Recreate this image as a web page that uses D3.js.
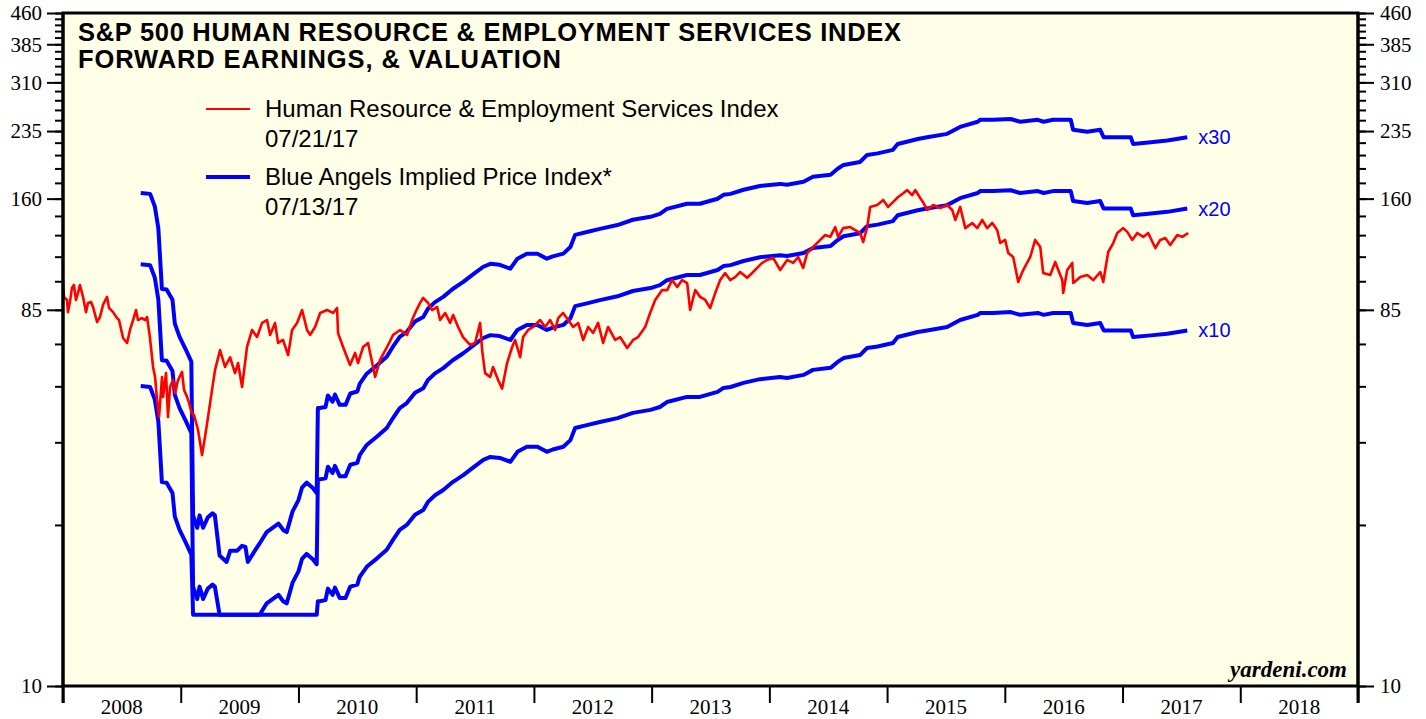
<!DOCTYPE html>
<html>
<head>
<meta charset="utf-8">
<title>S&amp;P 500 Human Resource &amp; Employment Services Index</title>
<style>
  body { margin: 0; background: #fff; }
  svg { display: block; }
</style>
</head>
<body>
<svg width="1426" height="719"></svg>
<script src="https://d3js.org/d3.v7.min.js"></script>
<script>

// year boundaries on the time axis, labels sit in the middle of each year
const years = d3.range(2008, 2020)
const yearLabels = d3.range(2008, 2019)
const yMajor = [10, 85, 160, 235, 310, 385, 460]
const yMinor = d3.range(10, 461, 15)

// valuation multiples applied to forward earnings (blue lines)
const multiples = [10, 20, 30]
const floorValue = 15   // blue lines never drawn below this

// forward earnings per share, [decimal year, value]
const fwdEarnings = [
  [2008.66,5.51],[2008.74,5.48],[2008.78,5.1],[2008.81,4.5],[2008.84,3.19],[2008.88,3.18],
  [2008.93,3.0],[2008.95,2.62],[2008.99,2.43],[2009.04,2.27],[2009.09,2.11],[2009.105,0.88],
  [2009.14,0.82],[2009.16,0.88],[2009.19,0.82],[2009.23,0.87],[2009.27,0.89],[2009.29,0.88],
  [2009.33,0.70],[2009.39,0.675],[2009.42,0.72],[2009.48,0.72],[2009.52,0.74],[2009.55,0.735],
  [2009.57,0.675],[2009.63,0.72],[2009.67,0.75],[2009.73,0.80],[2009.78,0.82],[2009.83,0.84],
  [2009.87,0.81],[2009.90,0.80],[2009.95,0.90],[2010.00,0.96],[2010.03,1.03],[2010.07,1.06],
  [2010.12,1.03],[2010.155,1.00],[2010.165,1.62],[2010.18,1.62],[2010.23,1.63],[2010.25,1.74],
  [2010.29,1.68],[2010.31,1.75],[2010.35,1.65],[2010.40,1.65],[2010.44,1.76],[2010.50,1.78],
  [2010.52,1.86],[2010.58,1.97],[2010.67,2.07],[2010.75,2.17],[2010.80,2.29],[2010.86,2.43],
  [2010.92,2.50],[2010.99,2.65],[2011.06,2.72],[2011.10,2.85],[2011.16,2.96],[2011.23,3.05],
  [2011.31,3.19],[2011.40,3.32],[2011.48,3.46],[2011.57,3.62],[2011.63,3.68],[2011.71,3.66],
  [2011.80,3.58],[2011.86,3.79],[2011.94,3.90],[2012.03,3.90],[2012.11,3.79],[2012.16,3.84],
  [2012.25,3.90],[2012.31,4.05],[2012.35,4.34],[2012.45,4.41],[2012.56,4.49],[2012.71,4.59],
  [2012.84,4.73],[2012.99,4.81],[2013.07,4.89],[2013.13,5.03],[2013.30,5.18],[2013.41,5.18],
  [2013.56,5.33],[2013.61,5.45],[2013.67,5.48],[2013.78,5.61],[2013.92,5.73],[2014.09,5.80],
  [2014.15,5.77],[2014.29,5.87],[2014.37,6.04],[2014.52,6.11],[2014.58,6.32],[2014.63,6.46],
  [2014.77,6.57],[2014.83,6.84],[2014.92,6.90],[2015.05,7.04],[2015.09,7.28],[2015.26,7.49],
  [2015.34,7.56],[2015.51,7.71],[2015.62,8.02],[2015.77,8.26],[2015.79,8.35],[2015.90,8.35],
  [2016.05,8.39],[2016.13,8.26],[2016.28,8.35],[2016.33,8.26],[2016.41,8.35],[2016.56,8.35],
  [2016.58,7.89],[2016.70,7.80],[2016.81,7.89],[2016.84,7.56],[2017.07,7.56],[2017.09,7.28],
  [2017.24,7.35],[2017.38,7.42],[2017.55,7.56]
]

// S&P 500 HR & employment services index, [decimal year, value]
const hrIndex = [
  [2008.000,100.7],[2008.008,91.5],[2008.034,89.9],[2008.042,83.9],[2008.059,88.9],[2008.076,96.2],
  [2008.093,97.9],[2008.110,89.9],[2008.127,93.5],[2008.144,97.9],[2008.170,91.5],[2008.195,83.9],
  [2008.212,88.4],[2008.238,88.9],[2008.255,86.4],[2008.289,79.3],[2008.314,81.6],[2008.340,87.4],
  [2008.374,91.5],[2008.391,85.9],[2008.425,83.9],[2008.459,81.1],[2008.476,80.2],[2008.510,72.4],
  [2008.544,70.4],[2008.569,75.8],[2008.595,80.2],[2008.620,84.9],[2008.637,80.2],[2008.671,81.1],
  [2008.697,80.2],[2008.714,81.6],[2008.739,72.4],[2008.765,61.4],[2008.782,58.0],[2008.799,50.9],
  [2008.816,46.2],[2008.841,58.0],[2008.850,51.8],[2008.875,59.3],[2008.892,46.2],[2008.909,54.8],
  [2008.935,57.0],[2008.952,53.0],[2008.977,57.0],[2009.011,59.7],[2009.028,53.9],[2009.054,51.8],
  [2009.071,50.0],[2009.096,47.0],[2009.113,46.7],[2009.147,42.9],[2009.181,37.2],[2009.206,41.2],
  [2009.232,46.2],[2009.266,53.9],[2009.291,60.3],[2009.334,67.6],[2009.376,61.4],[2009.419,64.9],
  [2009.461,59.3],[2009.487,62.8],[2009.521,54.8],[2009.563,68.8],[2009.606,75.8],[2009.648,72.8],
  [2009.691,78.9],[2009.733,80.2],[2009.759,73.7],[2009.801,78.9],[2009.827,70.4],[2009.869,71.6],
  [2009.912,65.7],[2009.946,75.8],[2009.988,78.9],[2010.031,84.9],[2010.073,75.8],[2010.099,73.7],
  [2010.141,77.1],[2010.184,83.5],[2010.243,84.9],[2010.294,83.5],[2010.328,85.9],[2010.336,74.5],
  [2010.379,68.8],[2010.438,62.1],[2010.481,66.5],[2010.506,62.8],[2010.549,68.8],[2010.591,70.4],
  [2010.625,63.2],[2010.651,58.0],[2010.693,63.9],[2010.753,68.8],[2010.804,73.7],[2010.863,75.8],
  [2010.923,73.7],[2010.965,80.2],[2010.991,83.5],[2011.033,88.4],[2011.059,91.0],[2011.101,88.4],
  [2011.135,84.9],[2011.178,86.4],[2011.203,80.2],[2011.246,83.5],[2011.288,78.9],[2011.314,82.5],
  [2011.356,77.1],[2011.398,72.8],[2011.458,69.6],[2011.500,70.4],[2011.543,78.9],[2011.560,67.6],
  [2011.585,59.3],[2011.628,58.0],[2011.653,61.4],[2011.696,57.0],[2011.730,54.3],[2011.772,62.8],
  [2011.815,68.8],[2011.840,71.6],[2011.883,64.9],[2011.908,72.8],[2011.951,75.8],[2011.993,77.1],
  [2012.053,80.2],[2012.095,77.1],[2012.138,80.2],[2012.180,75.8],[2012.206,81.1],[2012.248,83.5],
  [2012.291,80.2],[2012.333,77.1],[2012.376,78.9],[2012.418,71.6],[2012.461,77.1],[2012.503,74.5],
  [2012.545,78.9],[2012.588,70.4],[2012.630,77.1],[2012.690,71.6],[2012.732,72.8],[2012.792,68.4],
  [2012.843,71.6],[2012.885,72.8],[2012.945,77.1],[2012.987,83.5],[2013.030,89.9],[2013.089,95.1],
  [2013.132,95.1],[2013.174,100.7],[2013.217,96.8],[2013.259,100.7],[2013.302,99.0],[2013.327,84.9],
  [2013.370,95.1],[2013.412,91.5],[2013.455,89.9],[2013.497,85.9],[2013.540,93.5],[2013.582,100.7],
  [2013.624,104.8],[2013.667,100.7],[2013.709,102.4],[2013.752,105.4],[2013.811,102.0],[2013.854,104.8],
  [2013.896,107.9],[2013.939,111.0],[2013.981,112.9],[2014.032,114.2],[2014.092,106.6],[2014.151,112.9],
  [2014.202,111.0],[2014.245,114.8],[2014.287,107.9],[2014.321,117.4],[2014.372,121.5],[2014.432,126.5],
  [2014.474,130.1],[2014.517,128.7],[2014.559,136.1],[2014.584,128.7],[2014.627,135.3],[2014.687,136.1],
  [2014.729,133.8],[2014.772,131.6],[2014.797,125.0],[2014.831,136.1],[2014.856,152.6],[2014.916,154.3],
  [2014.967,158.8],[2015.009,152.6],[2015.052,157.1],[2015.094,161.5],[2015.137,165.0],[2015.171,168.0],
  [2015.213,163.3],[2015.239,168.0],[2015.281,160.6],[2015.307,156.5],[2015.341,150.0],[2015.392,154.3],
  [2015.451,151.7],[2015.511,154.3],[2015.553,150.0],[2015.579,141.7],[2015.621,152.6],[2015.664,135.3],
  [2015.723,139.3],[2015.766,135.3],[2015.808,141.7],[2015.850,135.3],[2015.893,139.3],[2015.935,133.8],
  [2015.961,124.3],[2016.003,126.5],[2016.029,117.4],[2016.071,114.8],[2016.114,99.6],[2016.156,106.6],
  [2016.216,114.8],[2016.258,126.5],[2016.301,121.5],[2016.326,104.8],[2016.386,103.6],[2016.428,111.6],
  [2016.454,106.6],[2016.488,100.7],[2016.496,93.5],[2016.530,106.6],[2016.573,111.0],[2016.581,99.0],
  [2016.641,102.4],[2016.700,103.6],[2016.751,100.7],[2016.811,105.4],[2016.836,99.6],[2016.878,118.1],
  [2016.921,124.3],[2016.955,131.6],[2017.006,135.3],[2017.040,132.4],[2017.082,126.5],[2017.125,131.6],
  [2017.176,128.7],[2017.218,131.6],[2017.278,120.8],[2017.320,126.5],[2017.363,127.9],[2017.405,122.9],
  [2017.465,130.1],[2017.507,128.7],[2017.558,131.6]
]

const titleLines = ["S&P 500 HUMAN RESOURCE & EMPLOYMENT SERVICES INDEX", "FORWARD EARNINGS, & VALUATION"]
const legendItems = [
  {name: "Human Resource & Employment Services Index", date: "07/21/17", color: "#ff0000", width: 2.2},
  {name: "Blue Angels Implied Price Index*", date: "07/13/17", color: "#0000ff", width: 4}
]

const svg = d3.select("svg")
const sans = "'Liberation Sans', Arial, Helvetica, sans-serif"
const serif = "'Liberation Serif', 'Times New Roman', serif"

const x = d3.scaleLinear().domain([2008, 2019]).range([63, 1358])
const y = d3.scaleLog().domain([10, 460]).range([686, 13])

// plot background
svg.append("rect")
    .attr("x", x(2008)).attr("y", y(460))
    .attr("width", x(2019) - x(2008)).attr("height", y(10) - y(460))
    .attr("fill", "#fffee6")

svg.append("clipPath").attr("id", "plotclip")
  .append("rect")
    .attr("x", x(2008)).attr("y", y(460))
    .attr("width", x(2019) - x(2008)).attr("height", y(10) - y(460))

// axes
function styleAxis(g) {
  g.select(".domain").remove()
  g.selectAll(".tick line").attr("stroke", "#000").attr("stroke-width", 2)
  g.selectAll(".tick text").attr("font-family", serif).attr("font-size", 21).attr("fill", "#000")
}

svg.append("g").attr("transform", `translate(${x(2008)},0)`)
    .call(d3.axisLeft(y).tickValues(yMinor).tickSize(8).tickFormat(""))
    .call(styleAxis)
svg.append("g").attr("transform", `translate(${x(2008)},0)`)
    .call(d3.axisLeft(y).tickValues(yMajor).tickSize(16).tickPadding(5).tickFormat(d3.format("d")))
    .call(styleAxis)
svg.append("g").attr("transform", `translate(${x(2019)},0)`)
    .call(d3.axisRight(y).tickValues(yMinor).tickSize(8).tickFormat(""))
    .call(styleAxis)
svg.append("g").attr("transform", `translate(${x(2019)},0)`)
    .call(d3.axisRight(y).tickValues(yMajor).tickSize(16).tickPadding(6).tickFormat(d3.format("d")))
    .call(styleAxis)

svg.append("g").attr("transform", `translate(0,${y(10)})`)
    .call(d3.axisBottom(x).tickValues(years).tickSize(17).tickFormat(""))
    .call(styleAxis)

svg.append("g").selectAll("text")
  .data(yearLabels)
  .join("text")
    .attr("x", d => x(d + 0.5))
    .attr("y", 714)
    .attr("text-anchor", "middle")
    .attr("font-family", serif)
    .attr("font-size", 21)
    .text(d => d)

// blue valuation lines
const plot = svg.append("g").attr("clip-path", "url(#plotclip)")

const line = d3.line()
    .x(d => x(d[0]))
    .y(d => y(d[1]))

plot.selectAll("path.multiple")
  .data(multiples)
  .join("path")
    .attr("class", "multiple")
    .attr("fill", "none")
    .attr("stroke", "#0000ff")
    .attr("stroke-width", 4)
    .attr("stroke-linejoin", "round")
    .attr("d", m => line(fwdEarnings.map(([t, e]) => [t, Math.max(floorValue, m * e)])))

plot.append("path")
    .attr("fill", "none")
    .attr("stroke", "#ff0000")
    .attr("stroke-width", 2.6)
    .attr("stroke-linejoin", "round")
    .attr("d", line(hrIndex))

// x10 / x20 / x30 tags at the end of the blue lines
const lastE = fwdEarnings[fwdEarnings.length - 1]
svg.append("g").selectAll("text")
  .data(multiples)
  .join("text")
    .attr("x", x(lastE[0]) + 11)
    .attr("y", m => y(m * lastE[1]) + 7)
    .attr("font-family", sans)
    .attr("font-size", 20)
    .attr("fill", "#0000ff")
    .text(m => "x" + m)

// frame
svg.append("rect")
    .attr("x", x(2008)).attr("y", y(460))
    .attr("width", x(2019) - x(2008)).attr("height", y(10) - y(460))
    .attr("fill", "none").attr("stroke", "#000").attr("stroke-width", 3)
svg.selectAll("line.side")
  .data([2008, 2019])
  .join("line")
    .attr("class", "side")
    .attr("x1", d => x(d)).attr("x2", d => x(d))
    .attr("y1", y(460)).attr("y2", y(10) + 17)
    .attr("stroke", "#000").attr("stroke-width", 3)

// title
svg.append("g").selectAll("text")
  .data(titleLines)
  .join("text")
    .attr("x", 78)
    .attr("y", (d, i) => 41 + i * 27)
    .attr("font-family", sans)
    .attr("font-weight", "bold")
    .attr("font-size", 25.5)
    .attr("textLength", (d, i) => i === 0 ? 823 : 483)
    .attr("lengthAdjust", "spacing")
    .text(d => d)

// legend
const legend = svg.append("g")
legendItems.forEach((item, i) => {
  const top = 109 + i * 68
  legend.append("line")
      .attr("x1", 206).attr("x2", 250)
      .attr("y1", top).attr("y2", top)
      .attr("stroke", item.color).attr("stroke-width", item.width)
  legend.append("text")
      .attr("x", 265).attr("y", top + 8)
      .attr("font-family", sans).attr("font-size", 24)
      .text(item.name)
  legend.append("text")
      .attr("x", 265).attr("y", top + 38)
      .attr("font-family", sans).attr("font-size", 24)
      .text(item.date)
})

svg.append("text")
    .attr("x", 1347).attr("y", 677)
    .attr("text-anchor", "end")
    .attr("font-family", serif)
    .attr("font-style", "italic")
    .attr("font-weight", "bold")
    .attr("font-size", 23)
    .text("yardeni.com")

</script>
</body>
</html>
